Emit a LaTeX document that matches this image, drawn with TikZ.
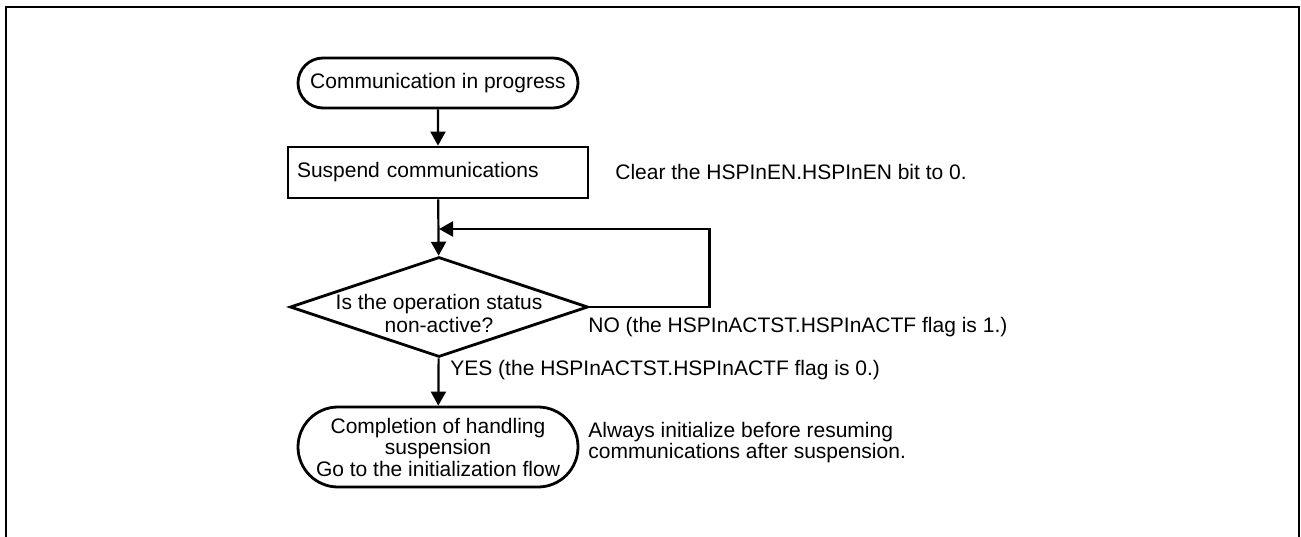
\documentclass[tikz,border=0pt]{standalone}
\usepackage{fontspec}
\setmainfont{Liberation Sans}
\usetikzlibrary{arrows.meta, positioning, shapes.geometric, shapes.misc}

\begin{document}
\begin{tikzpicture}[x=0.5pt, y=-0.5pt,
  every node/.style={font=\fontsize{10.5}{10.75}\selectfont, inner sep=0pt},
  term/.style={rounded rectangle, draw, line width=1.4pt, minimum width=140pt, align=center},
  proc/.style={rectangle, draw, line width=1.4pt, minimum width=150pt, minimum height=25.5pt, text width=141pt, align=left},
  dec/.style={diamond, draw, line width=1.4pt, minimum width=149pt, minimum height=50pt, aspect=2.98},
  note/.style={anchor=west, align=left},
  a/.style={-{Triangle[length=7pt, width=7.5pt]}, line width=1.1pt},
  frame/.style={line width=1.1pt}]
\useasboundingbox (0,0) rectangle (1301,536);
\draw[frame] (6,560) -- (6,7) -- (1299,7) -- (1299,560);
% flow
\node[term, minimum height=25pt] (cp) at (438,83) {Communication in progress};
\node[proc] (sc) at (438,172.5) {Suspend communications};
\node[note] (cl) at (615,172) {Clear the HSPInEN.HSPInEN bit to 0.};
\node[dec] (na) at (439,307) {};
\node[align=center, font=\fontsize{10.5}{11.5}\selectfont] (nat) at (439,313) {Is the operation status\\non-active?};
\node[term, minimum height=40pt] (ch) at (438,447) {Completion of handling\\suspension\\Go to the initialization flow};
\node[note, font=\fontsize{10.5}{9.3}\selectfont] (ai) at (588,442.5) {Always initialize before resuming\\communications after suspension.};
\coordinate (lp) at (439,229);
\draw[a] (cp) -- (sc);
\draw[a] (sc) -- (na);
\draw[a] (na.east) -- ++(120,0) |- (lp);
\node[note] (no) at (588,327) {NO (the HSPInACTST.HSPInACTF flag is 1.)};
\draw[a] (na) -- (ch);
\node[note] (ys) at (450,370) {YES (the HSPInACTST.HSPInACTF flag is 0.)};
\end{tikzpicture}
\end{document}
